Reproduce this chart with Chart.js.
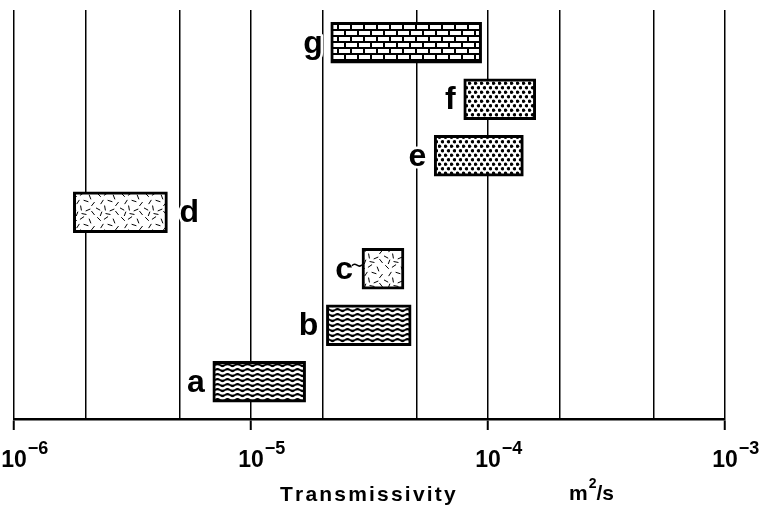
<!DOCTYPE html>
<html>
<head>
<meta charset="utf-8">
<script src="https://cdn.jsdelivr.net/npm/chart.js@4.4.0/dist/chart.umd.min.js"></script>
<style>
  html, body { margin: 0; padding: 0; background: #fff; }
</style>
</head>
<body>
<canvas id="chart" width="769" height="510"></canvas>
<script>
// data (m2/s)
const categories = ['a', 'b', 'c', 'd', 'e', 'f', 'g'];
const lowValues  = [6.9e-6, 2.08e-5, 2.94e-5, 1.78e-6, 5.93e-5, 7.9e-5, 2.17e-5];
const highValues = [1.7e-5, 4.74e-5, 4.42e-5, 4.44e-6, 1.41e-4, 1.59e-4, 9.4e-5];
const gridValues = [1e-6, 2e-6, 5e-6, 1e-5, 2e-5, 5e-5, 1e-4, 2e-4, 5e-4, 1e-3];
const decadeTicks = [1e-6, 1e-5, 1e-4, 1e-3];
const tickExponents = ['\u22126', '\u22125', '\u22124', '\u22123'];
const axisTitle = 'Transmissivity';
const unitParts = ['m', '2', '/s'];

const FONT = '"Liberation Sans", Arial, sans-serif';
const canvas = document.getElementById('chart');
const ctx = canvas.getContext('2d');

function makeTile(w, h, draw) {
    const c = document.createElement('canvas');
    c.width = w;
    c.height = h;
    draw(c.getContext('2d'), w, h);
    return ctx.createPattern(c, 'repeat');
}

const patterns = {
    wavy: makeTile(10, 5, (g, w, h) => {
        g.fillStyle = '#000';
        g.fillRect(0, 0, w, h);
        g.strokeStyle = '#fff';
        g.lineWidth = 2.5;
        g.beginPath();
        for (let x = -1; x <= w + 1; x += 0.5) {
            const y = 2.5 + 0.9 * Math.sin(2 * Math.PI * x / w);
            if (x === -1) g.moveTo(x, y); else g.lineTo(x, y);
        }
        g.stroke();
    }),
    dots: makeTile(6, 9, (g, w, h) => {
        g.fillStyle = '#fff';
        g.fillRect(0, 0, w, h);
        g.fillStyle = '#000';
        [[1.5, 2.25], [4.5, 6.75]].forEach(([x, y]) => {
            g.beginPath();
            g.arc(x, y, 1.75, 0, Math.PI * 2);
            g.fill();
        });
    }),
    bricks: makeTile(26, 12, (g, w, h) => {
        g.fillStyle = '#000';
        g.fillRect(0, 0, w, h);
        g.fillStyle = '#fff';
        [[1, 1], [14, 1], [-5, 7], [8, 7], [21, 7]].forEach(([x, y]) => g.fillRect(x, y, 11, 4));
    }),
    dashes: makeTile(24, 24, (g, w, h) => {
        g.fillStyle = '#fff';
        g.fillRect(0, 0, w, h);
        g.strokeStyle = '#000';
        g.lineWidth = 1;
        const marks = [[3, 3, 0.8], [10, 2, -0.6], [18, 5, 1.2], [6, 10, -1.0], [14, 9, 0.3],
                       [21, 12, -0.9], [2, 17, 0.5], [9, 16, 1.4], [16, 18, -0.4], [21, 21, 0.9],
                       [5, 22, -1.2], [12, 22, 0.2]];
        marks.forEach(([x, y, a]) => {
            const dx = 2.5 * Math.cos(a), dy = 2.5 * Math.sin(a);
            g.beginPath();
            g.moveTo(x - dx, y - dy);
            g.lineTo(x + dx, y + dy);
            g.stroke();
        });
    })
};
const fillOf = { a: 'wavy', b: 'wavy', c: 'dashes', d: 'dashes', e: 'dots', f: 'dots', g: 'bricks' };
const labelRight = { d: true };

const decorations = {
    id: 'decorations',
    afterDraw(chart) {
        const c = chart.ctx;
        const xs = chart.scales.x;
        c.save();
        c.fillStyle = '#000';

        // bar letters
        const meta = chart.getDatasetMeta(0);
        c.font = 'bold 32px ' + FONT;
        c.textBaseline = 'alphabetic';
        c.lineJoin = 'round';
        meta.data.forEach((bar, i) => {
            const name = categories[i];
            const left = Math.min(bar.x, bar.base);
            const right = Math.max(bar.x, bar.base);
            let tx;
            if (labelRight[name]) {
                c.textAlign = 'left';
                tx = right + 12;
            } else {
                c.textAlign = 'right';
                tx = left - (name === 'c' ? 9 : 8);
            }
            c.strokeStyle = '#fff';
            c.lineWidth = 5;
            c.strokeText(name, tx, bar.y + 10);
            c.fillText(name, tx, bar.y + 10);
            if (name === 'c') {
                c.strokeStyle = '#000';
                c.lineWidth = 1.5;
                c.beginPath();
                c.moveTo(tx - 1, bar.y - 3);
                c.bezierCurveTo(tx + 3, bar.y - 8, tx + 5, bar.y + 1, left, bar.y - 4);
                c.stroke();
            }
        });

        // tick labels 10^n
        decadeTicks.forEach((v, i) => {
            const px = xs.getPixelForValue(v);
            c.font = 'bold 23px ' + FONT;
            c.textAlign = 'center';
            const w = c.measureText('10').width;
            c.fillText('10', px, 467);
            c.font = 'bold 18px ' + FONT;
            c.textAlign = 'left';
            c.fillText(tickExponents[i], px + w / 2 + 1, 454);
        });

        // axis title with letter spacing
        c.font = 'bold 21px ' + FONT;
        c.textAlign = 'left';
        let x = 280;
        for (const ch of axisTitle) {
            c.fillText(ch, x, 501);
            x += c.measureText(ch).width + 2.2;
        }

        // unit m2/s
        let ux = 569;
        c.fillText(unitParts[0], ux, 500);
        ux += c.measureText(unitParts[0]).width + 1;
        c.font = 'bold 14px ' + FONT;
        c.fillText(unitParts[1], ux, 488);
        ux += c.measureText(unitParts[1]).width;
        c.font = 'bold 21px ' + FONT;
        c.fillText(unitParts[2], ux, 500);
        c.restore();
    }
};

new Chart(ctx, {
    type: 'bar',
    data: {
        labels: categories,
        datasets: [{
            data: categories.map((name, i) => ({ x: [lowValues[i], highValues[i]], y: i })),
            backgroundColor: categories.map(name => patterns[fillOf[name]]),
            borderColor: '#000',
            borderWidth: 3,
            borderSkipped: false,
            barThickness: 41
        }]
    },
    options: {
        indexAxis: 'y',
        responsive: false,
        animation: false,
        layout: { padding: { left: 14, right: 44, top: 10, bottom: 80 } },
        plugins: {
            legend: { display: false },
            tooltip: { enabled: false }
        },
        scales: {
            x: {
                type: 'logarithmic',
                min: 1e-6,
                max: 1e-3,
                z: 1,
                afterBuildTicks: (scale) => {
                    scale.ticks = gridValues.map(v => ({ value: v }));
                },
                grid: {
                    color: '#000',
                    lineWidth: 1.5,
                    tickLength: 11,
                    tickWidth: 2,
                    tickColor: (c) => decadeTicks.includes(c.tick.value) ? '#000' : 'rgba(0,0,0,0)'
                },
                border: { color: '#000', width: 2.5 },
                ticks: { display: false }
            },
            y: {
                type: 'linear',
                offset: false,
                min: -0.66,
                max: 6.58,
                display: false
            }
        }
    },
    plugins: [decorations]
});
</script>
</body>
</html>
